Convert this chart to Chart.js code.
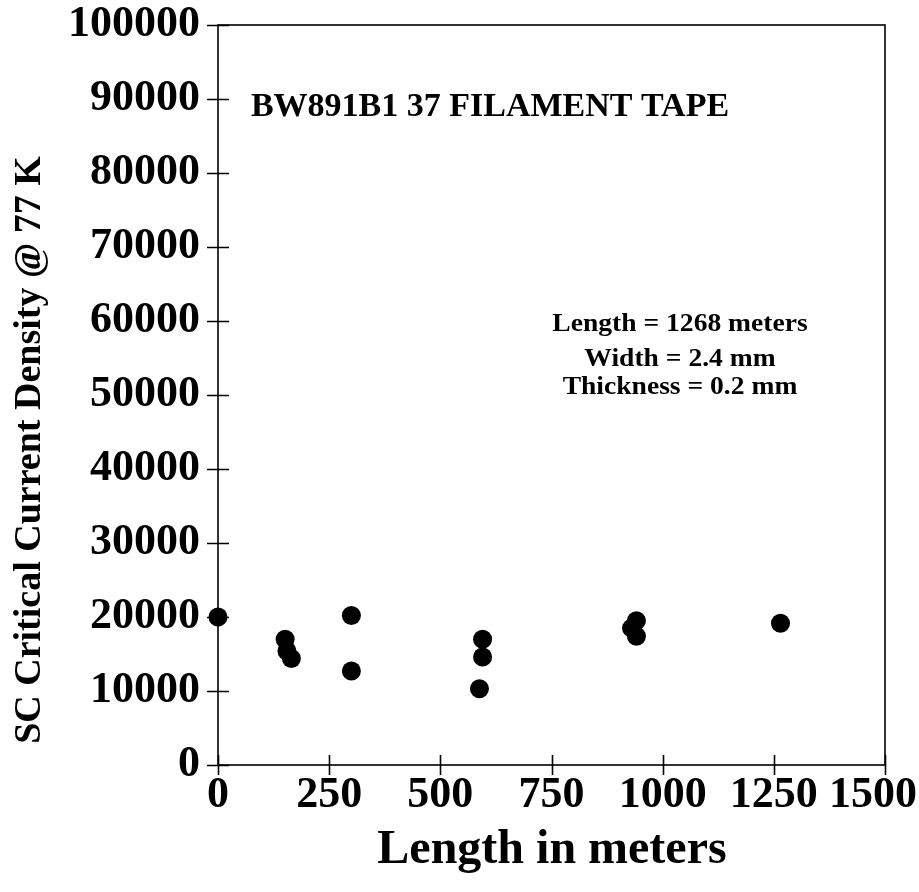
<!DOCTYPE html>
<html>
<head>
<meta charset="utf-8">
<script src="https://cdn.jsdelivr.net/npm/chart.js@4.4.1/dist/chart.umd.min.js"></script>
<style>
  html, body { margin: 0; padding: 0; background: #ffffff; }
  #wrap { width: 919px; height: 892px; position: relative; }
</style>
</head>
<body>
<div id="wrap"><canvas id="c" width="919" height="892"></canvas></div>
<script>
// ---- data ----
const lengthsM = [0, 151, 155, 165, 300, 300, 595, 595, 588, 941, 930, 941, 1265];
const criticalCurrentDensity = [20000, 17000, 15400, 14400, 20200, 12700, 17000, 14600, 10300, 19500, 18500, 17400, 19150];
const xTickValues = [0, 250, 500, 750, 1000, 1250, 1500];
const yTickValues = [0, 10000, 20000, 30000, 40000, 50000, 60000, 70000, 80000, 90000, 100000];
const xAxisTitle = 'Length in meters';
const yAxisTitle = 'SC Critical Current Density @ 77 K';
const plotTitle = 'BW891B1 37 FILAMENT TAPE';
const specLines = ['Length = 1268 meters', 'Width = 2.4 mm', 'Thickness = 0.2 mm'];

const points = lengthsM.map((x, i) => ({ x: x, y: criticalCurrentDensity[i] }));
const SERIF = '"Liberation Serif", "Times New Roman", Times, serif';
const TICK_FONT = 'bold 44px ' + SERIF;

const decorPlugin = {
  id: 'decor',
  afterDraw(chart) {
    const ctx = chart.ctx;
    const a = chart.chartArea;
    const xs = chart.scales.x, ys = chart.scales.y;
    const W = chart.width;
    ctx.save();
    ctx.strokeStyle = '#000';
    ctx.lineWidth = 1.6;
    ctx.strokeRect(a.left, a.top, a.right - a.left, a.bottom - a.top);
    // crossing tick marks
    ctx.beginPath();
    yTickValues.forEach(v => {
      const p = Math.round(ys.getPixelForValue(v)) + 0.5;
      ctx.moveTo(a.left - 11, p); ctx.lineTo(a.left + 11, p);
    });
    xTickValues.forEach(v => {
      const p = Math.round(xs.getPixelForValue(v)) + 0.5;
      ctx.moveTo(p, a.bottom - 10); ctx.lineTo(p, a.bottom + 10);
    });
    ctx.stroke();

    ctx.fillStyle = '#000';
    // x tick labels, kept inside the canvas
    ctx.font = TICK_FONT;
    ctx.textAlign = 'center';
    ctx.textBaseline = 'middle';
    xTickValues.forEach(v => {
      const t = String(v);
      const w = ctx.measureText(t).width;
      let px = xs.getPixelForValue(v);
      if (px + w / 2 > W - 2) px = W - 2 - w / 2;
      ctx.fillText(t, px, a.bottom + 31);
    });

    // axis titles
    ctx.font = 'bold 48px ' + SERIF;
    ctx.textAlign = 'center';
    ctx.textBaseline = 'alphabetic';
    ctx.fillText(xAxisTitle, 552, 863);

    ctx.save();
    ctx.translate(30, 450);
    ctx.rotate(-Math.PI / 2);
    ctx.font = 'bold 38px ' + SERIF;
    ctx.textBaseline = 'middle';
    ctx.fillText(yAxisTitle, 0, 0);
    ctx.restore();

    // in-plot title
    ctx.font = 'bold 34px ' + SERIF;
    ctx.textBaseline = 'alphabetic';
    ctx.fillText(plotTitle, 490, 116);

    // spec block
    ctx.font = 'bold 26px ' + SERIF;
    const baselines = [331, 366, 394];
    specLines.forEach((t, i) => {
      ctx.save();
      ctx.translate(680, baselines[i]);
      ctx.scale(1.06, 1);
      ctx.fillText(t, 0, 0);
      ctx.restore();
    });
    ctx.restore();
  }
};

new Chart(document.getElementById('c'), {
  type: 'scatter',
  data: {
    datasets: [{
      label: 'Jc',
      data: points,
      backgroundColor: '#000',
      borderColor: '#000',
      pointRadius: 9.5,
      pointHoverRadius: 9.5,
      borderWidth: 0,
      clip: false
    }]
  },
  options: {
    responsive: false,
    animation: false,
    devicePixelRatio: 1,
    layout: { padding: { top: 25, right: 34, left: 0, bottom: 0 } },
    plugins: { legend: { display: false }, tooltip: { enabled: false } },
    scales: {
      x: {
        type: 'linear',
        min: 0, max: 1500,
        afterBuildTicks(s) { s.ticks = xTickValues.map(v => ({ value: v })); },
        afterFit(s) { s.height = 127; s.paddingLeft = 0; s.paddingRight = 0; s.paddingTop = 0; s.paddingBottom = 0; },
        grid: { display: false },
        border: { display: false },
        ticks: { display: false },
        title: { display: false, text: xAxisTitle }
      },
      y: {
        type: 'linear',
        min: 0, max: 100000,
        afterBuildTicks(s) { s.ticks = yTickValues.map(v => ({ value: v })); },
        afterFit(s) { s.width = 218; s.paddingLeft = 0; s.paddingRight = 0; s.paddingTop = 0; s.paddingBottom = 0; },
        grid: { display: false },
        border: { display: false },
        ticks: {
          color: '#000',
          padding: 10,
          autoSkip: false,
          font: { family: SERIF, size: 44, weight: 'bold' },
          callback: v => String(v)
        },
        title: { display: false, text: yAxisTitle }
      }
    }
  },
  plugins: [decorPlugin]
});
</script>
</body>
</html>
